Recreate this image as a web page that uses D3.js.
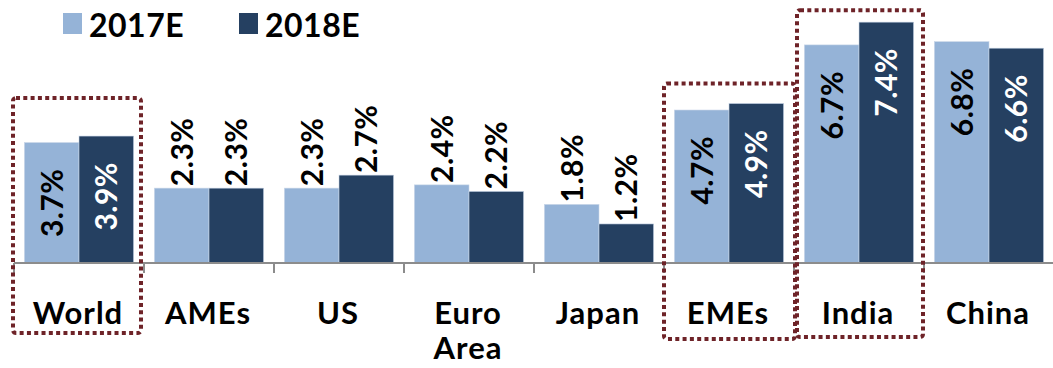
<!DOCTYPE html>
<html>
<head>
<meta charset="utf-8">
<script src="https://cdn.jsdelivr.net/npm/d3@7"></script>
<style>
  html, body { margin: 0; padding: 0; background: #fff; }
  svg { display: block; font-family: Lato, "Open Sans", sans-serif; font-weight: bold; }
</style>
</head>
<body>
<svg id="chart" width="1053" height="368"></svg>
<script>
// GDP growth projections by economy
const categories = ["World", "AMEs", "US", "Euro Area", "Japan", "EMEs", "India", "China"];
const series = ["2017E", "2018E"];
const values2017 = [3.7, 2.3, 2.3, 2.4, 1.8, 4.7, 6.7, 6.8];
const values2018 = [3.9, 2.3, 2.7, 2.2, 1.2, 4.9, 7.4, 6.6];
const labelInside = [true, false, false, false, false, true, true, true];
const highlighted = ["World", "EMEs", "India"];

const colors = { "2017E": "#95B3D7", "2018E": "#254061" };
const labelColors = { "2017E": "#000", "2018E": "#fff" };

const svg = d3.select("#chart");
const baseY = 263;

const x0 = d3.scaleBand().domain(categories).range([14, 1054]).paddingInner(0).paddingOuter(0);
const x1 = d3.scaleBand().domain(series).range([0, x0.bandwidth()]).paddingInner(0).paddingOuter(0.19);
const y = d3.scaleLinear().domain([0, 8]).range([baseY, baseY - 8 * 32.55]);

const rows = categories.map((c, i) => ({
  cat: c, inside: labelInside[i],
  vals: [{ s: "2017E", v: values2017[i] }, { s: "2018E", v: values2018[i] }]
}));

// bars
const groups = svg.append("g").selectAll("g").data(rows).join("g")
  .attr("transform", d => `translate(${x0(d.cat)},0)`);

groups.selectAll("rect").data(d => d.vals).join("rect")
  .attr("x", d => x1(d.s))
  .attr("y", d => y(d.v))
  .attr("width", x1.bandwidth())
  .attr("height", d => baseY - y(d.v))
  .attr("fill", d => colors[d.s])
  .attr("stroke", "#c9d6e8")
  .attr("stroke-width", 0.6);

// value labels, rotated
groups.each(function(row) {
  d3.select(this).selectAll("text.val").data(row.vals).join("text")
    .attr("class", "val")
    .attr("transform", d => {
      const cx = x1(d.s) + x1.bandwidth() / 2;
      const ty = row.inside ? y(d.v) + 26 : y(d.v) - 2;
      return `translate(${cx},${ty}) rotate(-90)`;
    })
    .attr("dy", "0.36em")
    .attr("text-anchor", row.inside ? "end" : "start")
    .attr("font-size", 30)
    .attr("letter-spacing", 0.5)
    .attr("fill", d => row.inside ? labelColors[d.s] : "#000")
    .text(d => d.v.toFixed(1) + "%");
});

// category axis
const axis = svg.append("g");
axis.append("line")
  .attr("x1", 14).attr("x2", 1054).attr("y1", baseY).attr("y2", baseY)
  .attr("stroke", "#8c8c8c").attr("stroke-width", 2);
axis.selectAll("line.tick").data(categories.concat(["_end"])).join("line")
  .attr("class", "tick")
  .attr("x1", (d, i) => i < categories.length ? x0(d) : 1054)
  .attr("x2", (d, i) => i < categories.length ? x0(d) : 1054)
  .attr("y1", baseY).attr("y2", baseY + 10)
  .attr("stroke", "#8c8c8c").attr("stroke-width", 2);

axis.selectAll("text.cat").data(categories).join("text")
  .attr("class", "cat")
  .attr("y", 324)
  .attr("text-anchor", "middle")
  .attr("font-size", 31)
  .attr("letter-spacing", 1)
  .attr("fill", "#000")
  .each(function(d) {
    const words = d.split(" ");
    d3.select(this).selectAll("tspan").data(words).join("tspan")
      .attr("x", x0(d) + x0.bandwidth() / 2 - 1)
      .attr("dy", (w, i) => i === 0 ? 0 : 35)
      .text(w => w);
  });

// dotted highlight frames
const frameTop = { "World": 38, "EMEs": 20, "India": 12 };
const frameBottom = { "World": 333, "EMEs": 339, "India": 337 };
const frameInset = { "World": [-1, -3], "EMEs": [0, 1], "India": [3, -1] };
svg.append("g").selectAll("rect").data(highlighted).join("rect")
  .attr("x", d => x0(d) + frameInset[d][0])
  .attr("y", d => {
    const i = categories.indexOf(d);
    return y(Math.max(values2017[i], values2018[i])) - frameTop[d];
  })
  .attr("width", d => x0.bandwidth() - frameInset[d][0] + frameInset[d][1])
  .attr("height", d => {
    const i = categories.indexOf(d);
    return frameBottom[d] - (y(Math.max(values2017[i], values2018[i])) - frameTop[d]);
  })
  .attr("rx", 3)
  .attr("fill", "none")
  .attr("stroke", "#6E2328")
  .attr("stroke-width", 4)
  .attr("stroke-dasharray", "4,3.3");

// legend
const legend = svg.append("g").selectAll("g").data(series).join("g")
  .attr("transform", (d, i) => `translate(${63 + i * 176},13)`);
legend.append("rect").attr("width", 19).attr("height", 21).attr("fill", d => colors[d]);
legend.append("text")
  .attr("x", 26).attr("y", 24)
  .attr("font-size", 32).attr("letter-spacing", 0.5).attr("fill", "#000")
  .text(d => d);
</script>
</body>
</html>
